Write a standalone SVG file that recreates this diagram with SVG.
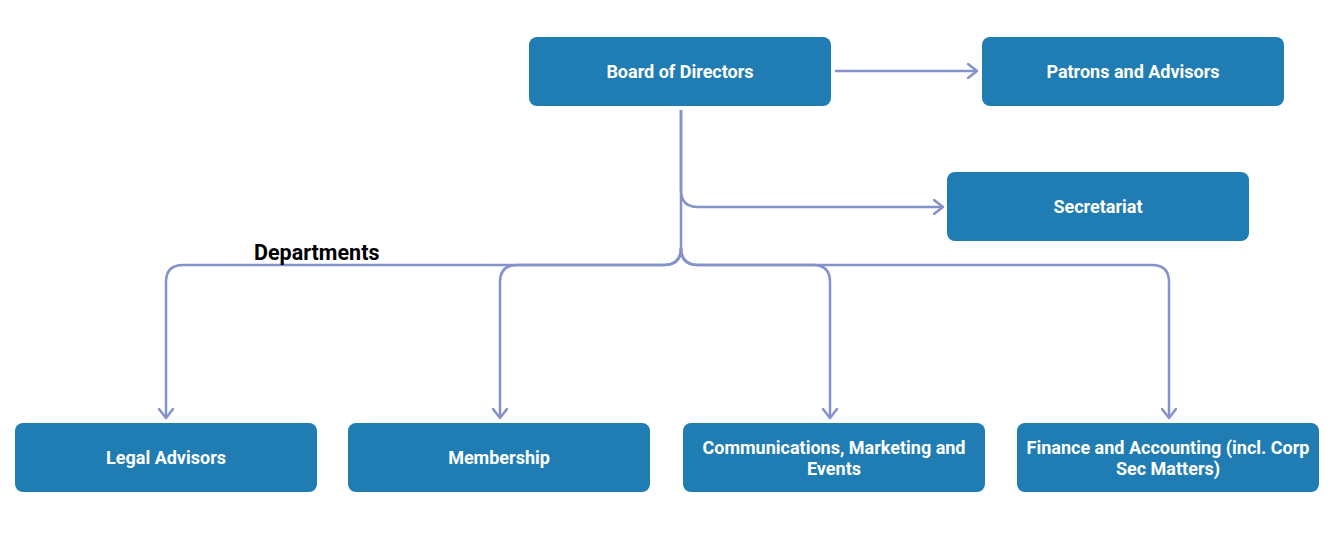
<svg xmlns="http://www.w3.org/2000/svg" width="1339" height="548" viewBox="0 0 1339 548">
<style>
.node rect{fill:#1f7db3;}
.node text{fill:#ffffff;font-family:Roboto,"Liberation Sans",sans-serif;font-weight:bold;font-size:18px;text-anchor:middle;}
.conn path{fill:none;stroke:#8491cc;stroke-width:2.5;}
.lbl{font-family:Roboto,"Liberation Sans",sans-serif;font-weight:bold;font-size:21.5px;fill:#000;}
</style>
<defs>
<marker id="arr" viewBox="0 0 12 16" refX="10" refY="8" markerWidth="12" markerHeight="16" markerUnits="userSpaceOnUse" orient="auto">
<path d="M1 1 L10 8 L1 15" fill="none" stroke="#8491cc" stroke-width="2.5" stroke-linecap="round" stroke-linejoin="round"/>
</marker>
</defs>
<rect width="1339" height="548" fill="#ffffff"/>
<g id="connectors" class="conn">
<path d="M835 71 H977" marker-end="url(#arr)"/>
<path d="M681 110 V190 Q681 207 698 207 H943" marker-end="url(#arr)"/>
<path d="M681 110 V248 Q681 265 664 265 H183 Q166 265 166 282 V418" marker-end="url(#arr)"/>
<path d="M681 248 Q681 265 664 265 H517 Q500 265 500 282 V418" marker-end="url(#arr)"/>
<path d="M681 248 Q681 265 698 265 H813 Q830 265 830 282 V418" marker-end="url(#arr)"/>
<path d="M681 248 Q681 265 698 265 H1152 Q1169 265 1169 282 V418" marker-end="url(#arr)"/>
</g>
<text class="lbl" x="254" y="260">Departments</text>
<g id="board" class="node"><rect x="529" y="37" width="302" height="69" rx="8"/><text x="680" y="78">Board of Directors</text></g>
<g id="patrons" class="node"><rect x="982" y="37" width="302" height="69" rx="8"/><text x="1133" y="78">Patrons and Advisors</text></g>
<g id="secretariat" class="node"><rect x="947" y="172" width="302" height="69" rx="8"/><text x="1098" y="213">Secretariat</text></g>
<g id="legal" class="node"><rect x="15" y="423" width="302" height="69" rx="8"/><text x="166" y="464">Legal Advisors</text></g>
<g id="membership" class="node"><rect x="348" y="423" width="302" height="69" rx="8"/><text x="499" y="464">Membership</text></g>
<g id="comm" class="node"><rect x="683" y="423" width="302" height="69" rx="8"/><text x="834" y="454">Communications, Marketing and</text><text x="834" y="475">Events</text></g>
<g id="finance" class="node"><rect x="1017" y="423" width="302" height="69" rx="8"/><text x="1168" y="454">Finance and Accounting (incl. Corp</text><text x="1168" y="475">Sec Matters)</text></g>
</svg>
